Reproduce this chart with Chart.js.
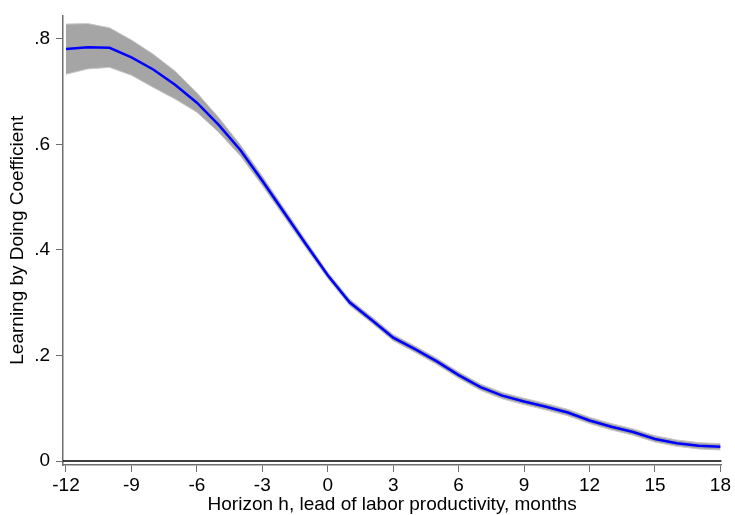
<!DOCTYPE html>
<html>
<head>
<meta charset="utf-8">
<script src="https://cdn.jsdelivr.net/npm/chart.js@4.4.1/dist/chart.umd.min.js"></script>
<style>
  html, body { margin: 0; padding: 0; background: #fff; }
  #wrap { width: 735px; height: 515px; }
</style>
</head>
<body>
<div id="wrap"><canvas id="lbdChart"></canvas></div>
<script>
// horizon in months and the estimated coefficient with its confidence band
const horizons = [-12, -11, -10, -9, -8, -7, -6, -5, -4, -3, -2, -1, 0, 1, 2, 3, 4, 5, 6, 7, 8, 9, 10, 11, 12, 13, 14, 15, 16, 17, 18];
const coef = [0.781, 0.784, 0.783, 0.765, 0.742, 0.713, 0.679, 0.637, 0.589, 0.531, 0.471, 0.411, 0.352, 0.301, 0.268, 0.234, 0.212, 0.189, 0.163, 0.140, 0.124, 0.113, 0.103, 0.092, 0.077, 0.065, 0.055, 0.042, 0.034, 0.029, 0.027];
const ciUpper = [0.828, 0.829, 0.821, 0.798, 0.771, 0.739, 0.698, 0.651, 0.599, 0.540, 0.479, 0.418, 0.358, 0.307, 0.274, 0.240, 0.218, 0.195, 0.169, 0.146, 0.130, 0.119, 0.109, 0.098, 0.083, 0.071, 0.061, 0.048, 0.040, 0.035, 0.033];
const ciLower = [0.733, 0.743, 0.746, 0.731, 0.708, 0.686, 0.661, 0.623, 0.578, 0.522, 0.463, 0.404, 0.346, 0.295, 0.262, 0.228, 0.206, 0.183, 0.157, 0.134, 0.118, 0.107, 0.097, 0.086, 0.071, 0.059, 0.049, 0.036, 0.028, 0.023, 0.021];
const xTicks = [-12, -9, -6, -3, 0, 3, 6, 9, 12, 15, 18];
const yTicks = [0, 0.2, 0.4, 0.6, 0.8];

const toPoints = (vals) => horizons.map((h, i) => ({ x: h, y: vals[i] }));
const axisColor = '#6e6e6e';
const font = { family: 'Liberation Sans, Arial, sans-serif', size: 19, lineHeight: 1 };

// black reference line at zero
const zeroLine = {
  id: 'zeroLine',
  beforeDatasetsDraw(chart) {
    const { ctx, chartArea, scales } = chart;
    const y = scales.y.getPixelForValue(0);
    ctx.save();
    ctx.strokeStyle = '#000';
    ctx.lineWidth = 1.5;
    ctx.beginPath();
    ctx.moveTo(chartArea.left, y);
    ctx.lineTo(chartArea.right, y);
    ctx.stroke();
    ctx.restore();
  }
};

new Chart(document.getElementById('lbdChart'), {
  type: 'line',
  data: {
    datasets: [
      {
        label: 'upper',
        data: toPoints(ciUpper),
        borderColor: 'rgb(200,200,200)',
        borderWidth: 1,
        backgroundColor: 'rgb(165,165,165)',
        fill: '+1',
        pointRadius: 0,
        tension: 0,
        order: 2
      },
      {
        label: 'lower',
        data: toPoints(ciLower),
        borderColor: 'rgb(200,200,200)',
        borderWidth: 1,
        fill: false,
        pointRadius: 0,
        tension: 0,
        order: 1
      },
      {
        // point estimate drawn on top of the band
        label: 'coef',
        data: toPoints(coef),
        borderColor: 'rgb(0,0,255)',
        borderWidth: 2.5,
        fill: false,
        pointRadius: 0,
        tension: 0,
        order: 0
      }
    ]
  },
  options: {
    responsive: true,
    maintainAspectRatio: false,
    animation: false,
    layout: { padding: { top: 7, right: 12, left: 0, bottom: 0 } },
    plugins: {
      legend: { display: false },
      tooltip: { enabled: false }
    },
    scales: {
      x: {
        type: 'linear',
        min: -12.137,
        max: 18.046,
        afterBuildTicks: (scale) => { scale.ticks = xTicks.map(v => ({ value: v })); },
        afterFit: (scale) => { scale.height = 50; },
        grid: { display: true, drawOnChartArea: false, drawTicks: true, tickLength: 7, color: axisColor },
        border: { display: true, color: axisColor, width: 1.5 },
        ticks: { color: '#000', font, padding: 4, maxRotation: 0, autoSkip: false },
        title: {
          display: true,
          text: 'Horizon h, lead of labor productivity, months',
          color: '#000',
          font,
          padding: { top: 0, bottom: 1 }
        }
      },
      y: {
        type: 'linear',
        min: -0.0074,
        max: 0.8443,
        afterBuildTicks: (scale) => { scale.ticks = yTicks.map(v => ({ value: v })); },
        afterFit: (scale) => { scale.width = 63; },
        grid: { display: true, drawOnChartArea: false, drawTicks: true, tickLength: 7, color: axisColor },
        border: { display: true, color: axisColor, width: 1.5 },
        ticks: {
          color: '#000',
          font,
          padding: 6,
          callback: (v) => v === 0 ? '0' : String(v).replace(/^0/, '')
        },
        title: {
          display: true,
          text: 'Learning by Doing Coefficient',
          color: '#000',
          font,
          padding: { top: 8, bottom: 0 }
        }
      }
    }
  },
  plugins: [zeroLine]
});
</script>
</body>
</html>
